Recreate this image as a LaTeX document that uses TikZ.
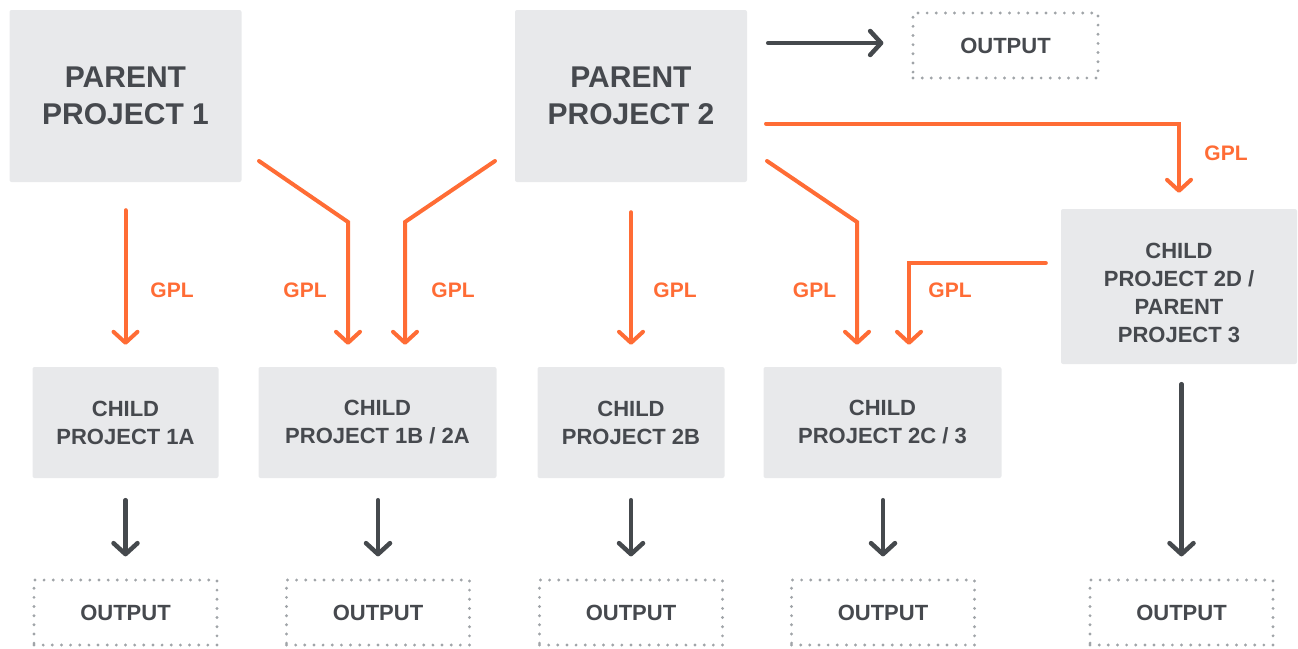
\documentclass[tikz,border=0pt]{standalone}
\usepackage{fontspec}
\setmainfont{Liberation Sans}
\usetikzlibrary{arrows.meta}
\definecolor{boxgray}{HTML}{E8E9EB}
\definecolor{txt}{HTML}{46494E}
\definecolor{orng}{HTML}{FF6C35}
\definecolor{dk}{HTML}{45494D}
\definecolor{dotc}{HTML}{A0A4A8}
\begin{document}
\begin{tikzpicture}[x=1pt,y=-1pt,
  box/.style={fill=boxgray, rounded corners=2pt, text=txt, font=\bfseries\fontsize{22}{28}\selectfont, align=center, inner sep=0pt},
  pbox/.style={box, minimum width=232pt, minimum height=172pt, font=\bfseries\fontsize{30}{37}\selectfont},
  cbox/.style={box, minimum height=111pt},
  obox/.style={draw=dotc, line width=3.2pt, dash pattern=on 0pt off 9.15pt, line cap=round, minimum width=183pt, minimum height=65pt, text=txt, font=\bfseries\fontsize{22}{26}\selectfont, inner sep=0pt},
  gpl/.style={text=orng, font=\bfseries\fontsize{21}{24}\selectfont, inner sep=0pt},
  oarr/.style={draw=orng, line width=4pt, line cap=round, line join=miter, -{Straight Barb[length=11pt,width=24pt,round]}},
  darr/.style={draw=dk, line width=4.5pt, line cap=round, -{Straight Barb[length=11pt,width=24pt,round]}},
]
\useasboundingbox (0,0) rectangle (1298,648);

% parents
\node[pbox] (p1) at (125.5,96) {PARENT\\PROJECT 1};
\node[pbox] (p2) at (631,96) {PARENT\\PROJECT 2};
\node[obox, minimum width=185pt] (o0) at (1005.5,45.5) {OUTPUT};

% child 2D / parent 3
\node[box, minimum width=236pt, minimum height=155pt] (c2d) at (1179,286.5) {\rule{0pt}{28pt}CHILD\\PROJECT 2D /\\PARENT\\PROJECT 3};

% children
\node[cbox, minimum width=186pt] (c1a) at (125.5,422.5) {CHILD\\PROJECT 1A};
\node[cbox, minimum width=238pt] (c1b) at (377.5,422.5) {CHILD\\PROJECT 1B / 2A};
\node[cbox, minimum width=187pt] (c2b) at (631,422.5) {CHILD\\PROJECT 2B};
\node[cbox, minimum width=238pt] (c2c) at (882.5,422.5) {CHILD\\PROJECT 2C / 3};

% outputs
\node[obox] (o1a) at (125.5,612.5) {OUTPUT};
\node[obox] (o1b) at (378,612.5) {OUTPUT};
\node[obox] (o2b) at (631,612.5) {OUTPUT};
\node[obox] (o2c) at (883,612.5) {OUTPUT};
\node[obox] (o2d) at (1181.5,612.5) {OUTPUT};

% dark arrows
\foreach \c/\o in {c1a/o1a, c1b/o1b, c2b/o2b, c2c/o2c}
  \draw[darr, shorten <=22pt, shorten >=22pt] (\c.south -| \o.north) -- (\o.north);
\draw[darr, shorten <=20pt, shorten >=22pt] (c2d.south -| o2d.north) -- (o2d.north);
\coordinate (o0w) at ([yshift=2.5pt]o0.west);
\draw[darr, shorten <=21pt, shorten >=28pt] (p2.east |- o0w) -- (o0w);

% orange GPL arrows
\draw[oarr, shorten <=28pt, shorten >=22pt] (p1.south) -- (c1a.north);
\draw[oarr, shorten <=30pt, shorten >=22pt] (p2.south) -- (c2b.north);

\coordinate (a2s) at (259,161);
\coordinate (a2b) at (348,222);
\draw[oarr, shorten >=22pt] (a2s) -- (a2b) -- (a2b |- c1b.north);

\coordinate (a3s) at (495,161);
\coordinate (a3b) at (405,222);
\draw[oarr, shorten >=22pt] (a3s) -- (a3b) -- (a3b |- c1b.north);

\coordinate (a5s) at (767,161);
\coordinate (a5b) at (857,222);
\draw[oarr, shorten >=22pt] (a5s) -- (a5b) -- (a5b |- c2c.north);

\coordinate (a6s) at (766,123.5);
\draw[oarr, shorten >=16pt] (a6s) -- (a6s -| c2d.north) -- (c2d.north);

\coordinate (a7s) at ([xshift=-15pt,yshift=23.5pt]c2d.west);
\coordinate (a7b) at (909,263);
\draw[oarr, shorten >=22pt] (a7s) -- (a7b) -- (a7b |- c2c.north);

% labels
\node[gpl] (g1) at (172,290.5) {GPL};
\node[gpl] (g2) at (305,290.5) {GPL};
\node[gpl] (g3) at (453,290.5) {GPL};
\node[gpl] (g4) at (675,290.5) {GPL};
\node[gpl] (g5) at (814.5,290.5) {GPL};
\node[gpl] (g6) at (950,290.5) {GPL};
\node[gpl] (g7) at (1226,153) {GPL};
\end{tikzpicture}
\end{document}
